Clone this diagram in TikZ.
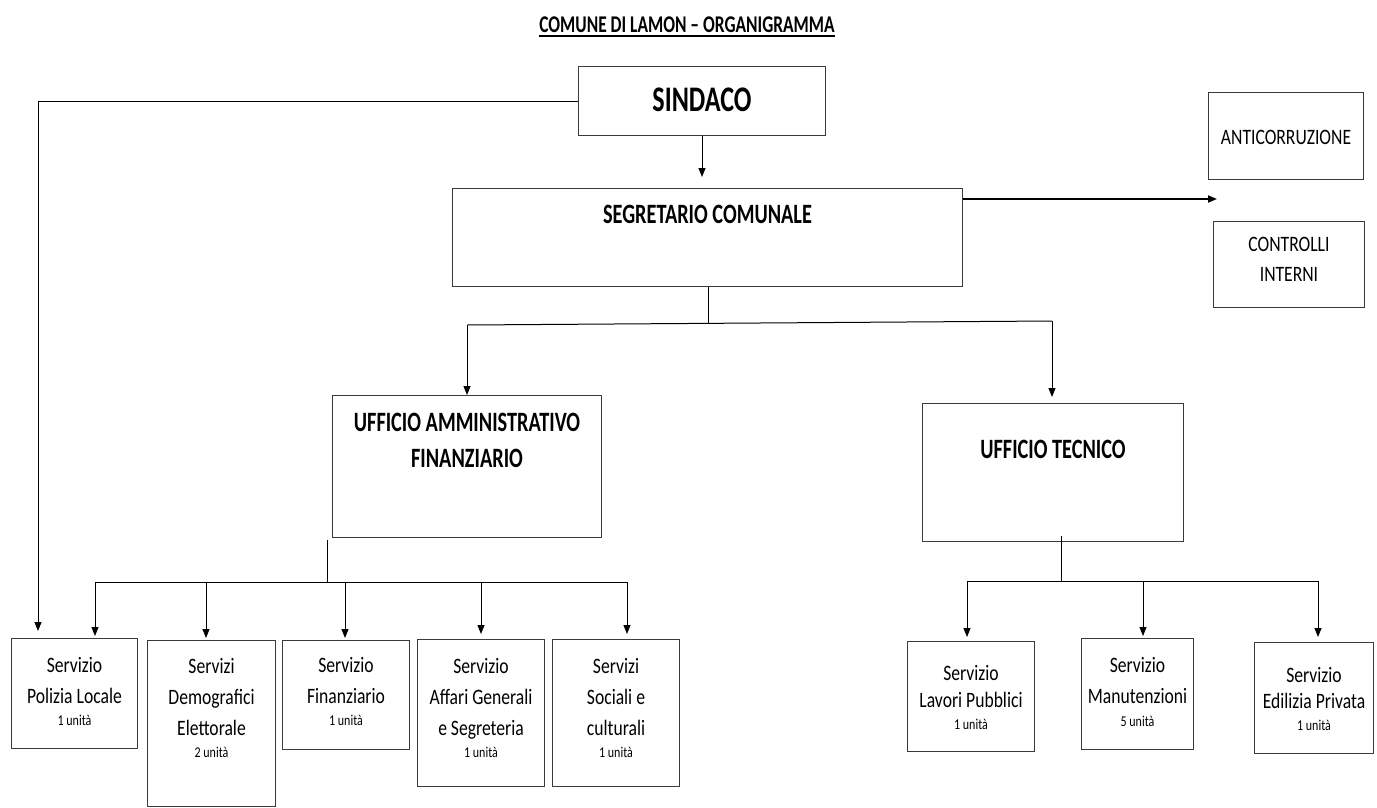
\documentclass[tikz,border=0pt]{standalone}
\usepackage{fontspec}
\setmainfont{Carlito}[UprightFeatures={FakeStretch=0.8},BoldFeatures={FakeStretch=0.725}]
\usepackage{tikz}
\usetikzlibrary{arrows.meta}

\definecolor{boxline}{HTML}{3A3A3A}
\newcommand{\sottolinea}[1]{\setbox0\hbox{#1}\rlap{\rule[-5pt]{\wd0}{1.8pt}}\box0}
\newcommand{\cell}[4]{\parbox[c][#2][t]{#1}{\centering\vspace*{#3}#4}}
\newcommand{\unita}[1]{{\fontsize{15}{15}\selectfont #1 unità}}

\begin{document}
\begin{tikzpicture}[x=1pt,y=-1pt,
  box/.style={draw=boxline,line width=1pt,inner sep=0pt,anchor=north west},
  head/.style={font=\bfseries\fontsize{28}{36}\selectfont},
  serv/.style={font=\fontsize{22}{31}\selectfont},
  arr/.style={-{Triangle[length=9pt,width=7pt]},line width=1pt},
  lnk/.style={line width=1pt}]
\useasboundingbox (0,0) rectangle (1377,807);

\node[font=\bfseries\fontsize{24}{26}\selectfont,anchor=base] (titolo) at (687,32) {\sottolinea{COMUNE DI LAMON – ORGANIGRAMMA}};

\node[box,font=\bfseries\fontsize{36}{40}\selectfont] (sind) at (578,66) {\cell{247pt}{69pt}{21pt}{SINDACO}};
\node[box,head] (segr) at (452,188) {\cell{510pt}{98pt}{17pt}{SEGRETARIO COMUNALE}};
\node[box,serv] (anti) at (1208,92) {\cell{155pt}{87pt}{38pt}{ANTICORRUZIONE}};
\node[box,serv,font=\fontsize{22}{30}\selectfont] (ctrl) at (1213,221) {\cell{151pt}{86pt}{16pt}{CONTROLLI\\INTERNI}};
\node[box,head] (amm) at (332,395) {\cell{269pt}{142pt}{18pt}{UFFICIO AMMINISTRATIVO\\FINANZIARIO}};
\node[box,head] (tecn) at (922,403) {\cell{261pt}{138pt}{37pt}{UFFICIO TECNICO}};

% servizi amministrativi
\node[box,serv] (poli) at (11,638) {\cell{126pt}{110pt}{19pt}{Servizio\\Polizia Locale\\[-9pt]\unita{1}}};
\node[box,serv] (demo) at (147,640) {\cell{128pt}{166pt}{18pt}{Servizi\\Demografici\\Elettorale\\[-9pt]\unita{2}}};
\node[box,serv] (fina) at (282,640) {\cell{127pt}{109pt}{17pt}{Servizio\\Finanziario\\[-9pt]\unita{1}}};
\node[box,serv] (affa) at (417,639) {\cell{127pt}{147pt}{19pt}{Servizio\\Affari Generali\\e Segreteria\\[-9pt]\unita{1}}};
\node[box,serv] (soci) at (552,639) {\cell{127pt}{147pt}{19pt}{Servizi\\Sociali e\\culturali\\[-9pt]\unita{1}}};

% servizi tecnici
\node[box,serv] (lavo) at (907,641) {\cell{127pt}{110pt}{24pt}{Servizio\\[-4pt]Lavori Pubblici\\[-9pt]\unita{1}}};
\node[box,serv] (manu) at (1081,638) {\cell{112pt}{111pt}{19pt}{Servizio\\Manutenzioni\\[-8pt]\unita{5}}};
\node[box,serv] (edil) at (1254,642) {\cell{119pt}{111pt}{25pt}{Servizio\\[-5pt]Edilizia Privata\\[-9pt]\unita{1}}};

% sindaco
\draw[arr,shorten >=11pt] (sind.south) -- (sind.south |- segr.north);
\coordinate (pl) at (38,101);
\draw[arr,shorten >=7pt] (sind.west) -- (pl) -- (pl |- poli.north);

% segretario
\coordinate (dx) at (1217,199);
\draw[arr,line width=1.8pt] (segr.east |- dx) -- (dx);
\coordinate (b1l) at (467,325);
\coordinate (b1r) at (1052,321);
\coordinate (b1m) at (708,323);
\draw[lnk] (segr.south -| b1m) -- (b1m);
\draw[lnk] (b1l) -- (b1r);
\draw[arr] (b1l) -- (b1l |- amm.north);
\draw[arr,shorten >=6pt] (b1r) -- (b1r |- tecn.north);

% ufficio amministrativo
\coordinate (b2m) at (327,582);
\draw[lnk] ([yshift=-2pt]amm.south -| b2m) -- (b2m);
\coordinate (j1) at (95,582);
\coordinate (j2) at (206,582);
\coordinate (j3) at (345,582);
\coordinate (j4) at (481,582);
\coordinate (j5) at (627,582);
\draw[lnk] (j1) -- (j5);
\draw[arr,shorten >=2pt] (j1) -- (j1 |- poli.north);
\draw[arr,shorten >=2pt] (j2) -- (j2 |- demo.north);
\draw[arr,shorten >=2pt] (j3) -- (j3 |- fina.north);
\draw[arr,shorten >=5pt] (j4) -- (j4 |- affa.north);
\draw[arr,shorten >=5pt] (j5) -- (j5 |- soci.north);

% ufficio tecnico
\coordinate (b3m) at (1061,581);
\draw[lnk] ([yshift=6pt]tecn.south -| b3m) -- (b3m);
\coordinate (k1) at (967,581);
\coordinate (k2) at (1143,581);
\coordinate (k3) at (1318,581);
\draw[lnk] (k1) -- (k3);
\draw[arr,shorten >=4pt] (k1) -- (k1 |- lavo.north);
\draw[arr,shorten >=2pt] (k2) -- (k2 |- manu.north);
\draw[arr,shorten >=5pt] (k3) -- (k3 |- edil.north);
\end{tikzpicture}
\end{document}
